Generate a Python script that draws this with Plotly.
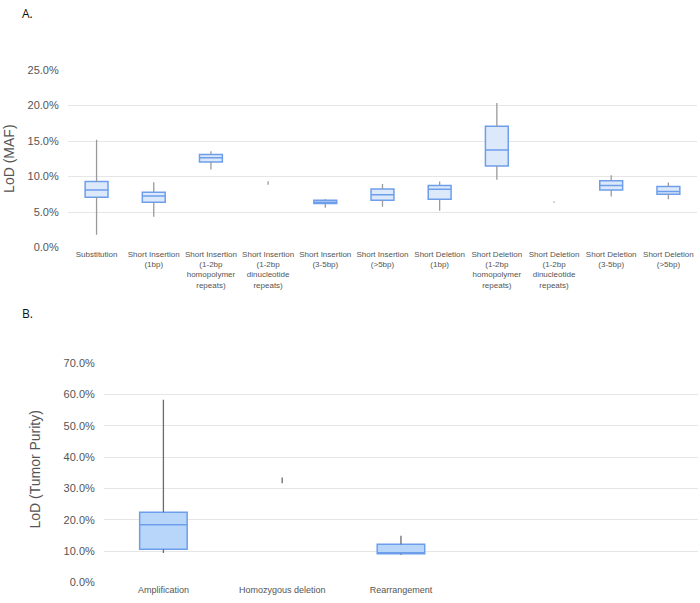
import plotly.graph_objects as go

# ---------- Panel A data (LoD as % MAF) ----------
cats_a = [
    "Substitution",
    "Short Insertion<br>(1bp)",
    "Short Insertion<br>(1-2bp<br>homopolymer<br>repeats)",
    "Short Insertion<br>(1-2bp<br>dinucleotide<br>repeats)",
    "Short Insertion<br>(3-5bp)",
    "Short Insertion<br>(>5bp)",
    "Short Deletion<br>(1bp)",
    "Short Deletion<br>(1-2bp<br>homopolymer<br>repeats)",
    "Short Deletion<br>(1-2bp<br>dinucleotide<br>repeats)",
    "Short Deletion<br>(3-5bp)",
    "Short Deletion<br>(>5bp)",
]
low_a = [1.8, 4.35, 11.0, 8.85, 5.6, 5.75, 5.2, 9.55, 6.3, 7.2, 6.8]
q1_a = [7.1, 6.4, 12.05, 9.1, 6.2, 6.65, 6.8, 11.5, 6.4, 8.1, 7.5]
med_a = [8.1, 7.25, 12.65, 9.1, 6.4, 7.45, 8.2, 13.75, 6.4, 8.75, 7.9]
q3_a = [9.3, 7.8, 13.1, 9.1, 6.65, 8.25, 8.75, 17.1, 6.4, 9.4, 8.6]
high_a = [15.2, 9.2, 13.55, 9.35, 6.85, 8.95, 9.3, 20.35, 6.5, 10.2, 9.15]
single_a = [False, False, False, True, False, False, False, False, True, False, False]

# ---------- Panel B data (LoD as % tumor purity) ----------
cats_b = ["Amplification", "Homozygous deletion", "Rearrangement"]
low_b = [9.4, 31.7, 8.85]
q1_b = [10.6, 32.5, 9.2]
med_b = [18.4, 32.5, 9.3]
q3_b = [22.4, 32.5, 12.2]
high_b = [58.3, 33.5, 14.9]
single_b = [False, True, False]

yticks_a = [0, 5, 10, 15, 20, 25]
yticks_b = [0, 10, 20, 30, 40, 50, 60, 70]

BOX_LINE = "#6d9eeb"
FILL_A = "#dce9fb"
FILL_B = "#b8d6fa"
WHISK_A = "#9a9a9a"
WHISK_B = "#6b6b6b"
FONT = "Liberation Sans, Arial, sans-serif"
TXT = "#555555"


def add_panel(fig, cats, low, q1, med, q3, high, single, xa, ya, fill, wcol):
    bc = [c for c, s in zip(cats, single) if not s]
    sel = [i for i, s in enumerate(single) if not s]
    wx, wy = [], []
    for i, c in enumerate(cats):
        if single[i]:
            wx += [c, c, None]
            wy += [low[i], high[i], None]
        else:
            wx += [c, c, None, c, c, None]
            wy += [low[i], q1[i], None, q3[i], high[i], None]
    fig.add_trace(go.Scatter(
        x=wx, y=wy, mode="lines", xaxis=xa, yaxis=ya,
        line=dict(color=wcol, width=1.3), hoverinfo="skip", showlegend=False,
    ))
    fig.add_trace(go.Box(
        x=bc,
        q1=[q1[i] for i in sel], median=[med[i] for i in sel],
        q3=[q3[i] for i in sel],
        lowerfence=[q1[i] for i in sel], upperfence=[q3[i] for i in sel],
        xaxis=xa, yaxis=ya, width=0.4, whiskerwidth=0,
        fillcolor=fill, line=dict(color=BOX_LINE, width=1.5),
        showlegend=False, boxpoints=False,
    ))


fig = go.Figure()
add_panel(fig, cats_a, low_a, q1_a, med_a, q3_a, high_a, single_a, "x", "y", FILL_A, WHISK_A)
add_panel(fig, cats_b, low_b, q1_b, med_b, q3_b, high_b, single_b, "x2", "y2", FILL_B, WHISK_B)

yax_common = dict(showline=False, zeroline=False, ticks="outside", ticklen=6,
                  tickcolor="rgba(0,0,0,0)", gridcolor="#e6e6e6", gridwidth=1,
                  tickfont=dict(size=11, color=TXT))
xax_common = dict(showline=False, zeroline=False, ticks="", showgrid=False,
                  tickangle=0, type="category", categoryorder="array")
fig.update_layout(
    width=700, height=603,
    margin=dict(l=0, r=0, t=0, b=0),
    paper_bgcolor="white", plot_bgcolor="white",
    font=dict(family=FONT, color=TXT),
    xaxis=dict(domain=[0.0971, 0.9957], anchor="y", categoryarray=cats_a,
               range=[-0.5, len(cats_a) - 0.5],
               tickfont=dict(size=8, color=TXT), **xax_common),
    yaxis=dict(domain=[0.5912, 0.8917], anchor="x", range=[0, 25],
               tickvals=yticks_a, ticktext=[f"{v:.1f}%" for v in yticks_a],
               **yax_common),
    xaxis2=dict(domain=[0.1486, 0.997], anchor="y2", categoryarray=cats_b,
                range=[-0.5, 4.5],
                tickfont=dict(size=9, color=TXT), **xax_common),
    yaxis2=dict(domain=[0.0244, 0.3959], anchor="x2", range=[0, 70],
                tickvals=yticks_b, ticktext=[f"{v:.1f}%" for v in yticks_b],
                **yax_common),
    annotations=[
        dict(text="A.", x=20 / 700, y=1 - 8 / 603, xref="paper", yref="paper",
             xanchor="left", yanchor="middle", showarrow=False,
             font=dict(size=12, color="#111111", family="Open Sans, sans-serif")),
        dict(text="B.", x=20 / 700, y=1 - 314 / 603, xref="paper", yref="paper",
             xanchor="left", yanchor="middle", showarrow=False,
             font=dict(size=12, color="#111111", family="Open Sans, sans-serif")),
        dict(text="LoD (MAF)", x=9 / 700, y=1 - 156 / 603, xref="paper", yref="paper",
             xanchor="center", yanchor="middle", textangle=-90, showarrow=False,
             font=dict(size=14, color=TXT)),
        dict(text="LoD (Tumor Purity)", x=35 / 700, y=1 - 473 / 603, xref="paper", yref="paper",
             xanchor="center", yanchor="middle", textangle=-90, showarrow=False,
             font=dict(size=14, color=TXT)),
    ],
)

fig.write_html(
    "out.html",
    config={"displayModeBar": False},
    post_script="document.body.style.margin='0';document.body.style.overflow='hidden';",
)
